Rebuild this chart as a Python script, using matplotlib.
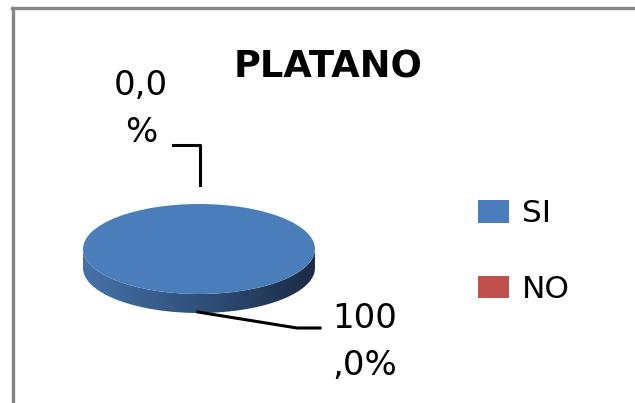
import matplotlib.pyplot as plt
import numpy as np
from matplotlib.colors import LinearSegmentedColormap
from matplotlib.lines import Line2D
from matplotlib.patches import PathPatch
from matplotlib.path import Path

categories = ["SI", "NO"]
values = [100, 0]
colors = ["#4a7ebb", "#c0504d"]
title = "PLATANO"

W, H = 635, 403
plt.rcParams["font.family"] = ["DejaVu Sans"]


def fx(x):
    return x / W


def fy(y):
    return 1 - y / H


def pct_label(v):
    # Excel-style label, wrapped after 3 characters
    s = f"{v / sum(values) * 100:.1f}%".replace(".", ",")
    return s[:3] + "\n" + s[3:]


fig = plt.figure(figsize=(W / 100, H / 100), dpi=100)

# chart frame (top and left edges visible)
fig.add_artist(Line2D([fx(13), fx(13)], [fy(7.5), fy(H + 5)], transform=fig.transFigure,
                      color="#868686", lw=2.4))
fig.add_artist(Line2D([fx(11.8), fx(W + 5)], [fy(7.5), fy(7.5)], transform=fig.transFigure,
                      color="#868686", lw=2.4))

# pie axes: radius 1 -> 116 px across, 45 px high
cx, cy, rx, ry = 199, 249, 116, 45
ax = fig.add_axes([fx(cx - 150), fy(cy + 100), 300 / W, 200 / H])
wedges, _ = ax.pie(values, colors=colors, startangle=90, counterclock=False,
                   wedgeprops=dict(linewidth=0))
ax.set_aspect("auto")
ax.set_xlim(-150 / rx, 150 / rx)
ax.set_ylim(-100 / ry, 100 / ry)
ax.axis("off")

# side of the disc
depth = 19 / ry
t = np.linspace(np.pi, 2 * np.pi, 200)
verts = np.concatenate([np.column_stack([np.cos(t), np.sin(t)]),
                        np.column_stack([np.cos(t[::-1]), np.sin(t[::-1]) - depth])])
side = PathPatch(Path(verts), facecolor="none", edgecolor="none")
ax.add_patch(side)
side_cmap = LinearSegmentedColormap.from_list("side", ["#4672a8", "#30507b", "#1b2c46"])
img = ax.imshow(np.linspace(0, 1, 256).reshape(1, -1), cmap=side_cmap, aspect="auto",
                extent=(-1, 1, -1 - depth, 0), zorder=0.5)
img.set_clip_path(side)

# title
fig.text(fx(328), fy(67), title, ha="center", va="center", fontsize=26.5, fontweight="bold")

# data labels with leader lines
fig.text(fx(141), fy(109), pct_label(values[1]), ha="center", va="center",
         fontsize=24.5, linespacing=1.55)
fig.add_artist(Line2D([fx(173), fx(200), fx(200)], [fy(145), fy(145), fy(185)],
                      transform=fig.transFigure, color="black", lw=2.2))
fig.text(fx(365), fy(342), pct_label(values[0]), ha="center", va="center",
         fontsize=24.5, linespacing=1.55)
fig.add_artist(Line2D([fx(198), fx(297), fx(320)], [fy(312), fy(328), fy(328)],
                      transform=fig.transFigure, color="black", lw=2.2))

# legend
fig.legend(wedges, categories, loc="upper left", bbox_to_anchor=(fx(478), fy(199)),
           frameon=False, fontsize=22.5, handlelength=1.0, handleheight=0.75,
           handletextpad=0.4, labelspacing=1.5, borderpad=0, borderaxespad=0)

fig.savefig("out.png", dpi=100)
